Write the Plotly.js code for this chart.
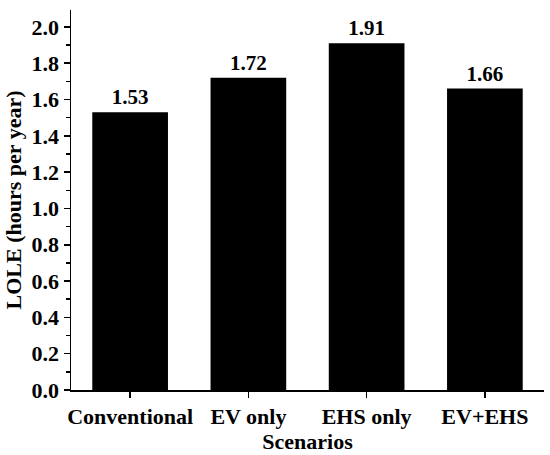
<!DOCTYPE html>
<html><head><meta charset="utf-8">
<script src="https://cdn.plot.ly/plotly-3.0.1.min.js"></script>
<style>body{margin:0;padding:0;background:#fff}#c{width:550px;height:455px}</style>
</head><body><div id="c"></div>
<script>
var categories = ["Conventional", "EV only", "EHS only", "EV+EHS"];
var lole = [1.53, 1.72, 1.91, 1.66];
var yTickVals = [0, 0.2, 0.4, 0.6, 0.8, 1.0, 1.2, 1.4, 1.6, 1.8, 2.0];
var yTickText = ["0.0","0.2","0.4","0.6","0.8","1.0","1.2","1.4","1.6","1.8","2.0"];

var fontFam = "'Palatino Linotype', 'Book Antiqua', Palatino, 'Liberation Serif', serif";
var trace = {
  type: "bar",
  x: categories,
  y: lole,
  marker: {color: "#000"},
  text: lole.map(function(v){return v.toFixed(2);}),
  textposition: "outside",
  cliponaxis: false,
  textfont: {family: fontFam, size: 21, color: "#000", weight: "bold"}
};
var layout = {
  width: 550, height: 455,
  margin: {l: 71, r: 6, t: 10, b: 65},
  paper_bgcolor: "#fff", plot_bgcolor: "#fff",
  bargap: 0.36,
  showlegend: false,
  font: {family: fontFam, size: 22, color: "#000", weight: "bold"},
  xaxis: {
    range: [-0.5, 3.5],
    showline: true, linecolor: "#000", linewidth: 1.5,
    ticks: "outside", ticklen: 6, tickwidth: 1.5, tickcolor: "#000",
    minor: {ticks: "outside", ticklen: 4, tickwidth: 1.5, tickcolor: "#000", dtick: 0.5, tick0: -0.5},
    showgrid: false, zeroline: false,
    tickfont: {family: fontFam, size: 22, color: "#000", weight: "bold"},
    title: {text: "Scenarios", font: {family: fontFam, size: 22, color: "#000", weight: "bold"}, standoff: 2}
  },
  yaxis: {
    range: [0, 2.093],
    showline: true, linecolor: "#000", linewidth: 1.5,
    ticks: "outside", ticklen: 6, tickwidth: 1.5, tickcolor: "#000",
    tickvals: yTickVals, ticktext: yTickText,
    minor: {ticks: "outside", ticklen: 4, tickwidth: 1.5, tickcolor: "#000", dtick: 0.1, tick0: 0},
    showgrid: false, zeroline: false,
    tickfont: {family: fontFam, size: 22, color: "#000", weight: "bold"},
    title: {text: "LOLE (hours per year)", font: {family: fontFam, size: 22, color: "#000", weight: "bold"}, standoff: 4}
  }
};
Plotly.newPlot("c", [trace], layout, {staticPlot: true, displayModeBar: false});
</script></body></html>
